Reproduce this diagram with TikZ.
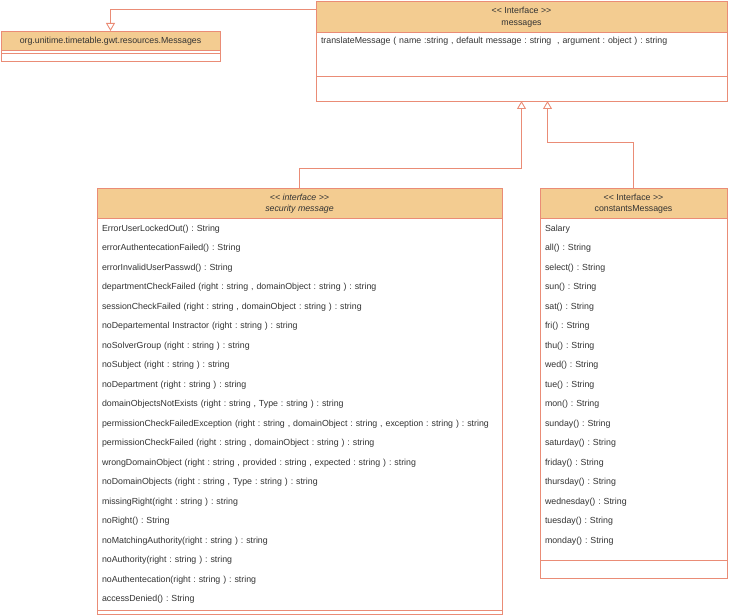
\documentclass[tikz,border=0pt]{standalone}
\usepackage{fontspec}
\setmainfont{Liberation Sans}
\usepackage{tikz}
\usetikzlibrary{arrows.meta, positioning}
\definecolor{umlline}{RGB}{234,140,118}
\definecolor{umlhead}{RGB}{243,204,145}
\definecolor{umltext}{RGB}{51,51,51}
\tikzstyle{arrow} = [draw=umlline, line width=0.9pt, -{Triangle[open, length=8pt, width=9pt]}]
\newcommand{\stereo}[1]{<\kern0pt< #1 >\kern0pt>}
\frenchspacing

\begin{document}
\begin{tikzpicture}[
        x=1pt, y=-1pt,
        font=\fontsize{8.8}{11.5}\selectfont,
        every node/.style={outer sep=0pt, text=umltext},
        head/.style={rectangle, draw=umlline, fill=umlhead, line width=0.9pt, align=center, text depth=0pt, minimum width=#1, minimum height=30pt},
        part/.style={rectangle, draw=umlline, fill=white, line width=0.9pt, minimum width=#1, inner sep=0pt},
        member/.style={text width=#1, align=left, inner xsep=5pt, inner ysep=0pt, minimum height=19.5pt, text height=6pt, text depth=2pt}
        ]
        \useasboundingbox (0,0) rectangle (729,615);

        % interface messages
        \node[head=411pt, minimum height=31pt] (msgs) at (521.5,16.5) {\stereo{Interface}\\messages};
        \node[part=411pt, minimum height=44pt, below=0pt of msgs] (msgsAttr) {};
        \node[part=411pt, minimum height=25pt, below=0pt of msgsAttr] (msgsOps) {};
        \node[member=401pt, below=0pt of msgs] (msgs1) {translateMessage ( name :string , default message : string~ , argument : object ) : string};

        % org.unitime resources
        \node[head=219pt, minimum height=19pt] (resMsg) at (110.5,40.5) {org.unitime.timetable.gwt.resources.Messages};
        \node[part=219pt, minimum height=3pt, below=0pt of resMsg] (resMsgAttr) {};
        \node[part=219pt, minimum height=8pt, below=0pt of resMsgAttr] (resMsgOps) {};

        % security message
        \node[head=405pt] (secMsg) at (299.5,203) {\itshape \stereo{interface}\\\itshape security message};
        \node[part=405pt, minimum height=392pt, below=0pt of secMsg] (secAttr) {};
        \node[part=405pt, minimum height=4pt, below=0pt of secAttr] (secOps) {};
        \node[member=395pt, below=1.5pt of secMsg] (sec1) {ErrorUserLockedOut() : String};
        \node[member=395pt, below=0pt of sec1] (sec2) {errorAuthentecationFailed() : String};
        \node[member=395pt, below=0pt of sec2] (sec3) {errorInvalidUserPasswd() : String};
        \node[member=395pt, below=0pt of sec3] (sec4) {departmentCheckFailed (right : string , domainObject : string ) : string};
        \node[member=395pt, below=0pt of sec4] (sec5) {sessionCheckFailed (right : string , domainObject : string ) : string};
        \node[member=395pt, below=0pt of sec5] (sec6) {noDepartemental Instractor (right : string ) : string};
        \node[member=395pt, below=0pt of sec6] (sec7) {noSolverGroup (right : string ) : string};
        \node[member=395pt, below=0pt of sec7] (sec8) {noSubject (right : string ) : string};
        \node[member=395pt, below=0pt of sec8] (sec9) {noDepartment (right : string ) : string};
        \node[member=395pt, below=0pt of sec9] (sec10) {domainObjectsNotExists (right : string , Type : string ) : string};
        \node[member=395pt, below=0pt of sec10] (sec11) {permissionCheckFailedException (right : string , domainObject : string , exception : string ) : string};
        \node[member=395pt, below=0pt of sec11] (sec12) {permissionCheckFailed (right : string , domainObject : string ) : string};
        \node[member=395pt, below=0pt of sec12] (sec13) {wrongDomainObject (right : string , provided : string , expected : string ) : string};
        \node[member=395pt, below=0pt of sec13] (sec14) {noDomainObjects (right : string , Type : string ) : string};
        \node[member=395pt, below=0pt of sec14] (sec15) {missingRight(right : string ) : string};
        \node[member=395pt, below=0pt of sec15] (sec16) {noRight() : String};
        \node[member=395pt, below=0pt of sec16] (sec17) {noMatchingAuthority(right : string ) : string};
        \node[member=395pt, below=0pt of sec17] (sec18) {noAuthority(right : string ) : string};
        \node[member=395pt, below=0pt of sec18] (sec19) {noAuthentecation(right : string ) : string};
        \node[member=395pt, below=0pt of sec19] (sec20) {accessDenied() : String};

        % constants messages
        \node[head=187pt] (constMsgs) at (633.5,203) {\stereo{Interface}\\constantsMessages};
        \node[part=187pt, minimum height=342pt, below=0pt of constMsgs] (constAttr) {};
        \node[part=187pt, minimum height=18pt, below=0pt of constAttr] (constOps) {};
        \node[member=177pt, below=1.5pt of constMsgs] (const1) {Salary};
        \node[member=177pt, below=0pt of const1] (const2) {all() : String};
        \node[member=177pt, below=0pt of const2] (const3) {select() : String};
        \node[member=177pt, below=0pt of const3] (const4) {sun() : String};
        \node[member=177pt, below=0pt of const4] (const5) {sat() : String};
        \node[member=177pt, below=0pt of const5] (const6) {fri() : String};
        \node[member=177pt, below=0pt of const6] (const7) {thu() : String};
        \node[member=177pt, below=0pt of const7] (const8) {wed() : String};
        \node[member=177pt, below=0pt of const8] (const9) {tue() : String};
        \node[member=177pt, below=0pt of const9] (const10) {mon() : String};
        \node[member=177pt, below=0pt of const10] (const11) {sunday() : String};
        \node[member=177pt, below=0pt of const11] (const12) {saturday() : String};
        \node[member=177pt, below=0pt of const12] (const13) {friday() : String};
        \node[member=177pt, below=0pt of const13] (const14) {thursday() : String};
        \node[member=177pt, below=0pt of const14] (const15) {wednesday() : String};
        \node[member=177pt, below=0pt of const15] (const16) {tuesday() : String};
        \node[member=177pt, below=0pt of const16] (const17) {monday() : String};

        % generalisations
        \draw[arrow] ([yshift=7.5pt]msgs.west) -| (resMsg);
        \draw[arrow] (secMsg.north) -- ++(0,20pt) -| (msgsOps.south);
        \draw[arrow] (constMsgs.north) -- ++(0,46pt) -| ([xshift=26pt]msgsOps.south);

    \end{tikzpicture}
\end{document}
